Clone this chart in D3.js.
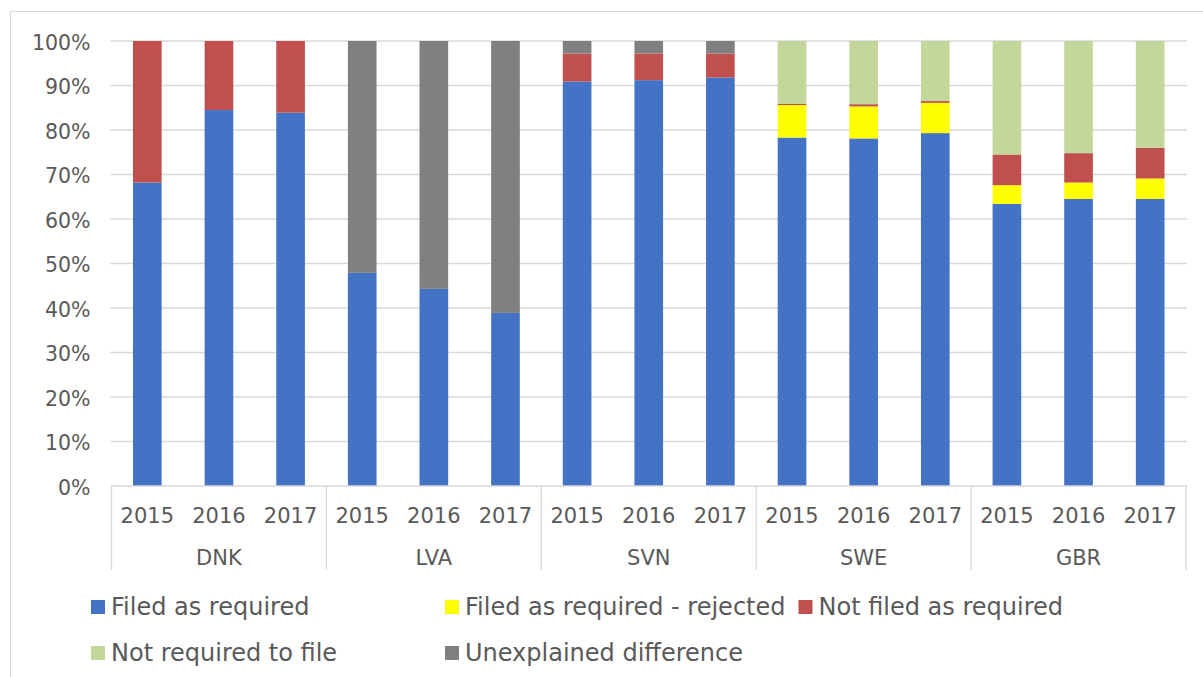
<!DOCTYPE html>
<html>
<head>
<meta charset="utf-8">
<script src="https://cdn.jsdelivr.net/npm/d3@7"></script>
<style>
  html, body { margin: 0; padding: 0; background: #fff; }
  svg { display: block; }
  text { font-family: "DejaVu Sans", Verdana, sans-serif; fill: #595959; }
</style>
</head>
<body>
<svg id="chart" width="1203" height="677"></svg>
<script>
// ---- data ----
const countries = ["DNK", "LVA", "SVN", "SWE", "GBR"];
const years = ["2015", "2016", "2017"];
const seriesNames = ["Filed as required", "Filed as required - rejected", "Not filed as required", "Not required to file", "Unexplained difference"];
const seriesColors = ["#4472C4", "#FFFF00", "#C0504D", "#C4D79B", "#808080"];
// values per bar (country x year order), in percent
const filedAsRequired   = [68.2, 84.5, 83.9, 47.9, 44.3, 38.9, 90.9, 91.2, 91.8, 78.3, 78.1, 79.3, 63.4, 64.5, 64.5];
const filedRejected     = [0, 0, 0, 0, 0, 0, 0, 0, 0, 7.3, 7.2, 6.8, 4.2, 3.7, 4.6];
const notFiled          = [31.8, 15.5, 16.1, 0, 0, 0, 6.3, 6.0, 5.4, 0.3, 0.5, 0.4, 6.9, 6.6, 6.9];
const notRequired       = [0, 0, 0, 0, 0, 0, 0, 0, 0, 14.1, 14.2, 13.5, 25.5, 25.2, 24.0];
const unexplained       = [0, 0, 0, 52.1, 55.7, 61.1, 2.8, 2.8, 2.8, 0, 0, 0, 0, 0, 0];
const yTicks = [0, 0.1, 0.2, 0.3, 0.4, 0.5, 0.6, 0.7, 0.8, 0.9, 1.0];

const seriesValues = [filedAsRequired, filedRejected, notFiled, notRequired, unexplained];

// ---- build table ----
const keys = seriesNames;
const rows = [];
countries.forEach((c, ci) => {
  years.forEach((y, yi) => {
    const i = ci * years.length + yi;
    const row = { id: c + "-" + y, country: c, year: y };
    keys.forEach((k, ki) => row[k] = seriesValues[ki][i] / 100);
    rows.push(row);
  });
});

const svg = d3.select("#chart");
const W = 1203, H = 677;
const plot = { left: 111.5, right: 1186, top: 41, bottom: 486 };

// chart border
svg.append("rect").attr("x", 10.5).attr("y", 11.5).attr("width", W).attr("height", H)
  .attr("fill", "none").attr("stroke", "#d9d9d9").attr("stroke-width", 1);

const x0 = d3.scaleBand().domain(countries).range([plot.left, plot.right]).paddingInner(0).paddingOuter(0);
const x1 = d3.scaleBand().domain(years).range([0, x0.bandwidth()]).paddingInner(0.6).paddingOuter(0.3);
const y = d3.scaleLinear().domain([0, 1]).range([plot.bottom, plot.top]);

// gridlines
svg.append("g").selectAll("line").data(yTicks.filter(t => t > 0)).join("line")
  .attr("x1", plot.left - 1).attr("x2", plot.right + 1)
  .attr("y1", d => y(d)).attr("y2", d => y(d))
  .attr("stroke", "#d9d9d9").attr("stroke-width", 1.3);

// y axis labels
const yAxis = d3.axisLeft(y).tickValues(yTicks).tickFormat(d3.format(".0%")).tickSize(0).tickPadding(21);
const yg = svg.append("g").attr("transform", `translate(${plot.left},0)`).call(yAxis);
yg.select(".domain").remove();
yg.selectAll("text").style("font-size", "20.5px").attr("fill", "#595959").attr("dy", "0.4em");

// stacked bars
const stack = d3.stack().keys(keys);
const stacked = stack(rows);
svg.append("g").selectAll("g").data(stacked).join("g")
  .attr("fill", (d, i) => seriesColors[i])
  .selectAll("rect").data(d => d).join("rect")
  .attr("x", d => x0(d.data.country) + x1(d.data.year))
  .attr("width", x1.bandwidth())
  .attr("y", d => y(d[1]))
  .attr("height", d => Math.max(0, y(d[0]) - y(d[1])));

// category axis
const axisG = svg.append("g");
axisG.append("line").attr("x1", plot.left - 1).attr("x2", plot.right + 1)
  .attr("y1", plot.bottom).attr("y2", plot.bottom)
  .attr("stroke", "#d9d9d9").attr("stroke-width", 1.3);
const bounds = countries.map(c => x0(c)).concat([plot.right]);
axisG.selectAll("line.sep").data(bounds).join("line").attr("class", "sep")
  .attr("x1", d => d).attr("x2", d => d)
  .attr("y1", plot.bottom).attr("y2", 570)
  .attr("stroke", "#d9d9d9").attr("stroke-width", 1.3);

// year labels
axisG.selectAll("text.year").data(rows).join("text").attr("class", "year")
  .attr("x", d => x0(d.country) + x1(d.year) + x1.bandwidth() / 2)
  .attr("y", 523)
  .attr("text-anchor", "middle")
  .style("font-size", "21px")
  .text(d => d.year);

// country labels
axisG.selectAll("text.country").data(countries).join("text").attr("class", "country")
  .attr("x", d => x0(d) + x0.bandwidth() / 2)
  .attr("y", 565)
  .attr("text-anchor", "middle")
  .style("font-size", "21px")
  .text(d => d);

// legend
const legendPos = [
  { sx: 91, ty: 615 },
  { sx: 445, ty: 615 },
  { sx: 798.5, ty: 615 },
  { sx: 91, ty: 661 },
  { sx: 445, ty: 661 }
];
const lg = svg.append("g").selectAll("g").data(seriesNames).join("g")
  .attr("transform", (d, i) => `translate(${legendPos[i].sx},${legendPos[i].ty})`);
lg.append("rect").attr("x", 0).attr("y", -15).attr("width", 14).attr("height", 14)
  .attr("fill", (d, i) => seriesColors[i]);
lg.append("text").attr("x", 20).attr("y", 0)
  .style("font-size", "24px")
  .text(d => d);
</script>
</body>
</html>
